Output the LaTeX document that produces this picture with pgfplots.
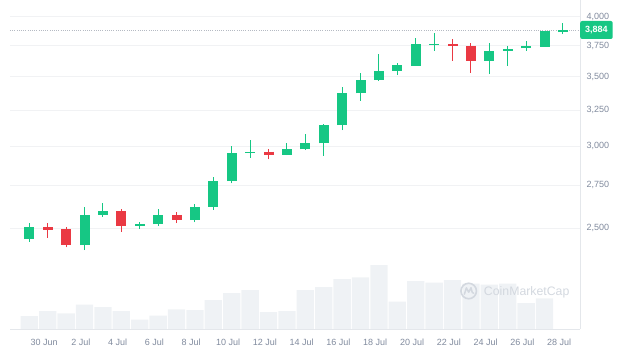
\documentclass[border=0pt]{standalone}
\usepackage{pgfplots}
\pgfplotsset{compat=1.18}
\usepackage{fontspec}
\setmainfont{Liberation Sans}
\definecolor{cgreen}{HTML}{16C784}
\definecolor{cred}{HTML}{EA3943}
\definecolor{volgray}{HTML}{EFF2F5}
\definecolor{ticktext}{HTML}{808A9D}
\definecolor{gridc}{HTML}{F1F2F4}
\definecolor{axisc}{HTML}{E4E7EB}
\definecolor{wm}{HTML}{D3D8DF}
\definecolor{dotc}{HTML}{B5BAC3}
\begin{document}
\begin{tikzpicture}
\useasboundingbox (0,0) rectangle (639pt,356pt);
% ---------- volume (arbitrary units) ----------
\begin{axis}[at={(10pt,27pt)}, anchor=south west, scale only axis,
  width=570pt, height=329pt, xmin=-1.05, xmax=29.93, ymin=0, ymax=329,
  hide axis, clip=false]
\addplot[ybar, bar width=0.94, fill=volgray, draw=none] coordinates {
(0,13) (1,18) (2,15.7) (3,24.3) (4,22) (5,18) (6,9.3) (7,13.3) (8,19.7) (9,19)
(10,29) (11,36) (12,39) (13,17) (14,18) (15,39) (16,42) (17,50) (18,51.7) (19,64)
(20,27.3) (21,48) (22,46.3) (23,49) (24,45.3) (25,44.3) (26,45.3) (27,26) (28,30.7)};
\node[circle, draw=wm, line width=1.6pt, minimum size=15.5pt, inner sep=0pt] (logo) at (axis cs:23.88,38) {};
\draw[wm, line width=1.5pt, line join=round, line cap=round]
  ([shift={(-4.3pt,-3.2pt)}]logo.center) -- ([shift={(-2.3pt,3.2pt)}]logo.center)
  -- ([shift={(0pt,-1.2pt)}]logo.center) -- ([shift={(2.3pt,3.2pt)}]logo.center)
  -- ([shift={(3.6pt,-1.5pt)}]logo.center) -- ([shift={(5pt,-2.2pt)}]logo.center);
\node[anchor=west, inner sep=0pt, text=wm, font=\fontsize{12.3}{14}\selectfont] at (axis cs:24.70,36.3) {CoinMarketCap};
\end{axis}
% ---------- price ----------
\begin{axis}[at={(10pt,27pt)}, anchor=south west, scale only axis,
  width=570pt, height=329pt, xmin=-1.05, xmax=29.93,
  ymode=log, ymin=1997, ymax=4152, clip=false,
  axis x line*=bottom, axis y line*=right,
  axis line style={draw=axisc, line width=0.8pt},
  major tick length=0pt,
  ytick={2500,2750,3000,3250,3500,3750,4000},
  yticklabels={{2,500},{2,750},{3,000},{3,250},{3,500},{3,750},{4,000}},
  xtick={0.8,2.8,4.8,6.8,8.8,10.8,12.8,14.8,16.8,18.8,20.8,22.8,24.8,26.8,28.8},
  xticklabels={30 Jun,2 Jul,4 Jul,6 Jul,8 Jul,10 Jul,12 Jul,14 Jul,16 Jul,18 Jul,20 Jul,22 Jul,24 Jul,26 Jul,28 Jul},
  tick label style={font=\fontsize{9}{10}\selectfont, text=ticktext},
  xticklabel style={yshift=-6.3pt},
  yticklabel style={anchor=west, xshift=3pt},
  ymajorgrids, grid style={draw=gridc, line width=0.8pt},
  unbounded coords=jump]
% current price line
\addplot[draw=dotc, line width=0.6pt, dash pattern=on 1pt off 1.2pt] coordinates {(-1.05,3884) (29.93,3884)};
% green wicks (low, high)
\addplot[cgreen, line width=1pt] coordinates {
(0,2423)(0,2527)(0,nan) (3,2380)(3,2620)(3,nan) (4,2563)(4,2641)(4,nan)
(6,2494)(6,2535)(6,nan) (7,2511)(7,2606)(7,nan) (9,2531)(9,2635)(9,nan)
(10,2602)(10,2798)(10,nan) (11,2761)(11,3001)(11,nan) (12,2923)(12,3041)(12,nan)
(14,2940)(14,3018)(14,nan) (15,2973)(15,3082)(15,nan) (16,2936)(16,3150)(16,nan)
(17,3108)(17,3423)(17,nan) (18,3318)(18,3527)(18,nan) (19,3466)(19,3679)(19,nan)
(20,3513)(20,3608)(20,nan) (21,3586)(21,3818)(21,nan) (22,3708)(22,3860)(22,nan)
(25,3520)(25,3775)(25,nan) (26,3585)(26,3748)(26,nan) (27,3708)(27,3792)(27,nan)
(28,3740)(28,3878)(28,nan) (29,3849)(29,3942)};
% green bodies (open, close)
\addplot[cgreen, line width=10pt] coordinates {
(0,2438)(0,2504)(0,nan) (3,2406)(3,2574)(3,nan) (4,2574)(4,2594)(4,nan)
(6,2511)(6,2522)(6,nan) (7,2521)(7,2574)(7,nan) (9,2546)(9,2620)(9,nan)
(10,2620)(10,2774)(10,nan) (11,2774)(11,2956)(11,nan) (12,2956)(12,2962)(12,nan)
(14,2942)(14,2978)(14,nan) (15,2978)(15,3018)(15,nan) (16,3018)(16,3142)(16,nan)
(17,3142)(17,3373)(17,nan) (18,3373)(18,3474)(18,nan) (19,3474)(19,3547)(19,nan)
(20,3547)(20,3593)(20,nan) (21,3588)(21,3762)(21,nan) (22,3756)(22,3767)(22,nan)
(25,3627)(25,3708)(25,nan) (26,3708)(26,3720)(26,nan) (27,3727)(27,3745)(27,nan)
(28,3742)(28,3875)(28,nan) (29,3866)(29,3884)};
% red wicks
\addplot[cred, line width=1pt] coordinates {
(1,2446)(1,2527)(1,nan) (2,2394)(2,2504)(2,nan) (5,2479)(5,2606)(5,nan)
(8,2527)(8,2590)(8,nan) (13,2912)(13,2981)(13,nan) (23,3627)(23,3804)(23,nan)
(24,3531)(24,3770)};
% red bodies
\addplot[cred, line width=10pt] coordinates {
(1,2504)(1,2488)(1,nan) (2,2492)(2,2406)(2,nan) (5,2594)(5,2511)(5,nan)
(8,2574)(8,2546)(8,nan) (13,2962)(13,2942)(13,nan) (23,3762)(23,3745)(23,nan)
(24,3750)(24,3627)};
\node[anchor=west, fill=cgreen, text=white, font=\fontsize{9}{10}\selectfont\bfseries,
  rounded corners=2pt, inner xsep=5pt, inner ysep=0pt, minimum height=18pt]
  at (axis cs:29.93,3884) {3,884};
\end{axis}
\end{tikzpicture}
\end{document}
